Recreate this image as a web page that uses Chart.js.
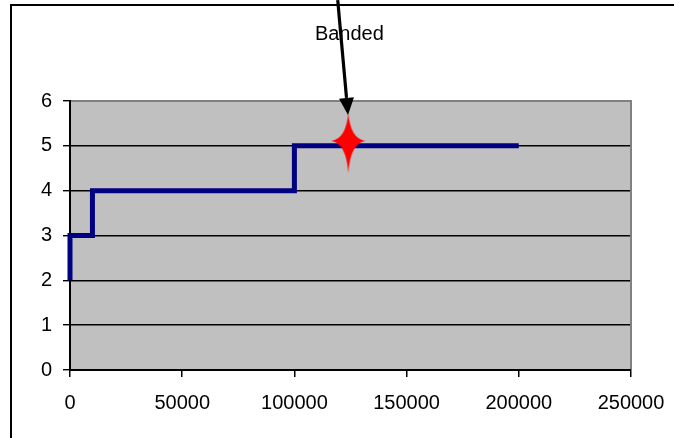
<!DOCTYPE html>
<html><head><meta charset="utf-8">
<script src="https://cdn.jsdelivr.net/npm/chart.js@4"></script>
<style>html,body{margin:0;padding:0;background:#fff}#wrap{width:674px;height:438px}</style>
</head><body><div id="wrap"><canvas id="c" width="674" height="438"></canvas></div>
<script>
// ---- data ----
const stepX = [0, 0, 10000, 10000, 100000, 100000, 200000];
const stepY = [2, 3, 3, 4, 4, 5, 5];
const markerX = [124000];
const markerY = [5.11];
const labelText = 'Banded';
const labelPos = [124500, 7.35];
const arrowFrom = [119300, 8.25];
const arrowTo = [123900, 5.69];
const xTicks = [0, 50000, 100000, 150000, 200000, 250000];
const yTicks = [0, 1, 2, 3, 4, 5, 6];

const FONT = '"Liberation Sans", Arial, sans-serif';

function makeStar() {
  const c = document.createElement('canvas');
  c.width = 36; c.height = 64;
  const g = c.getContext('2d');
  g.translate(18, 32);
  g.fillStyle = '#FF0000';
  g.beginPath();
  g.moveTo(0, -28);
  g.quadraticCurveTo(2.2, -2.2, 17, 0);
  g.quadraticCurveTo(2.2, 2.2, 0, 32);
  g.quadraticCurveTo(-2.2, 2.2, -17, 0);
  g.quadraticCurveTo(-2.2, -2.2, 0, -28);
  g.closePath();
  g.fill();
  return c;
}

const decor = {
  id: 'decor',
  beforeDraw(chart) {
    const { ctx, chartArea: a } = chart;
    ctx.save();
    ctx.fillStyle = '#fff';
    ctx.fillRect(0, 0, chart.width, chart.height);
    ctx.strokeStyle = '#000';
    ctx.lineWidth = 2;
    ctx.beginPath();
    ctx.moveTo(11, chart.height + 2);
    ctx.lineTo(11, 5);
    ctx.lineTo(chart.width + 2, 5);
    ctx.stroke();
    ctx.fillStyle = '#C0C0C0';
    ctx.fillRect(a.left, a.top, a.right - a.left, a.bottom - a.top);
    ctx.restore();
  },
  beforeDatasetsDraw(chart) {
    const { ctx, chartArea: a } = chart;
    ctx.save();
    ctx.strokeStyle = '#808080';
    ctx.lineWidth = 2;
    ctx.beginPath();
    ctx.moveTo(a.left + 1, a.top);
    ctx.lineTo(a.right, a.top);
    ctx.lineTo(a.right, a.bottom - 1);
    ctx.stroke();
    ctx.restore();
  },
  afterDatasetsDraw(chart) {
    const { ctx, scales: { x, y } } = chart;
    ctx.save();
    ctx.fillStyle = '#000';
    ctx.font = '20px ' + FONT;
    ctx.textAlign = 'center';
    ctx.textBaseline = 'alphabetic';
    ctx.fillText(labelText, x.getPixelForValue(labelPos[0]), y.getPixelForValue(labelPos[1]));
    const x0 = x.getPixelForValue(arrowFrom[0]), y0 = y.getPixelForValue(arrowFrom[1]);
    const x1 = x.getPixelForValue(arrowTo[0]), y1 = y.getPixelForValue(arrowTo[1]);
    const ang = Math.atan2(y1 - y0, x1 - x0);
    const hl = 17, hw = 7.5;
    const bx = x1 - hl * Math.cos(ang), by = y1 - hl * Math.sin(ang);
    ctx.strokeStyle = '#000';
    ctx.lineWidth = 3.2;
    ctx.beginPath();
    ctx.moveTo(x0, y0);
    ctx.lineTo(bx, by);
    ctx.stroke();
    ctx.beginPath();
    ctx.moveTo(x1, y1);
    ctx.lineTo(bx + hw * Math.sin(ang), by - hw * Math.cos(ang));
    ctx.lineTo(bx - hw * Math.sin(ang), by + hw * Math.cos(ang));
    ctx.closePath();
    ctx.fill();
    ctx.restore();
  }
};

new Chart(document.getElementById('c'), {
  type: 'scatter',
  data: {
    datasets: [
      {
        data: markerX.map((v, i) => ({ x: v, y: markerY[i] })),
        pointStyle: makeStar(),
        pointRadius: 10,
        order: 0
      },
      {
        type: 'line',
        data: stepX.map((v, i) => ({ x: v, y: stepY[i] })),
        borderColor: '#000080',
        borderWidth: 5,
        pointRadius: 0,
        showLine: true,
        tension: 0,
        fill: false,
        clip: false,
        borderJoinStyle: 'miter',
        borderCapStyle: 'butt',
        order: 1
      }
    ]
  },
  options: {
    responsive: false,
    animation: false,
    devicePixelRatio: 1,
    layout: { padding: { top: 101, right: 43, left: 0, bottom: 0 } },
    plugins: { legend: { display: false }, tooltip: { enabled: false } },
    scales: {
      x: {
        type: 'linear',
        min: xTicks[0], max: xTicks[xTicks.length - 1],
        afterBuildTicks(s) { s.ticks = xTicks.map(v => ({ value: v })); },
        afterFit(s) { s.height = 68; s.paddingLeft = 0; s.paddingRight = 0; },
        grid: { drawOnChartArea: false, drawTicks: true, tickLength: 7, color: '#000', lineWidth: 1.5 },
        border: { display: true, color: '#000', width: 2 },
        ticks: { color: '#000', font: { family: FONT, size: 20 }, padding: 14, maxRotation: 0, autoSkip: false, callback: v => String(v) }
      },
      y: {
        type: 'linear',
        min: yTicks[0], max: yTicks[yTicks.length - 1],
        afterBuildTicks(s) { s.ticks = yTicks.map(v => ({ value: v })); },
        afterFit(s) { s.width = 70; s.paddingTop = 0; s.paddingBottom = 0; },
        grid: { drawOnChartArea: true, drawTicks: true, tickLength: 7, color: '#000', lineWidth: 1.4 },
        border: { display: true, color: '#000', width: 2 },
        ticks: { color: '#000', font: { family: FONT, size: 20 }, padding: 11, autoSkip: false, callback: v => String(v) }
      }
    }
  },
  plugins: [decor]
});
</script>
</body></html>
